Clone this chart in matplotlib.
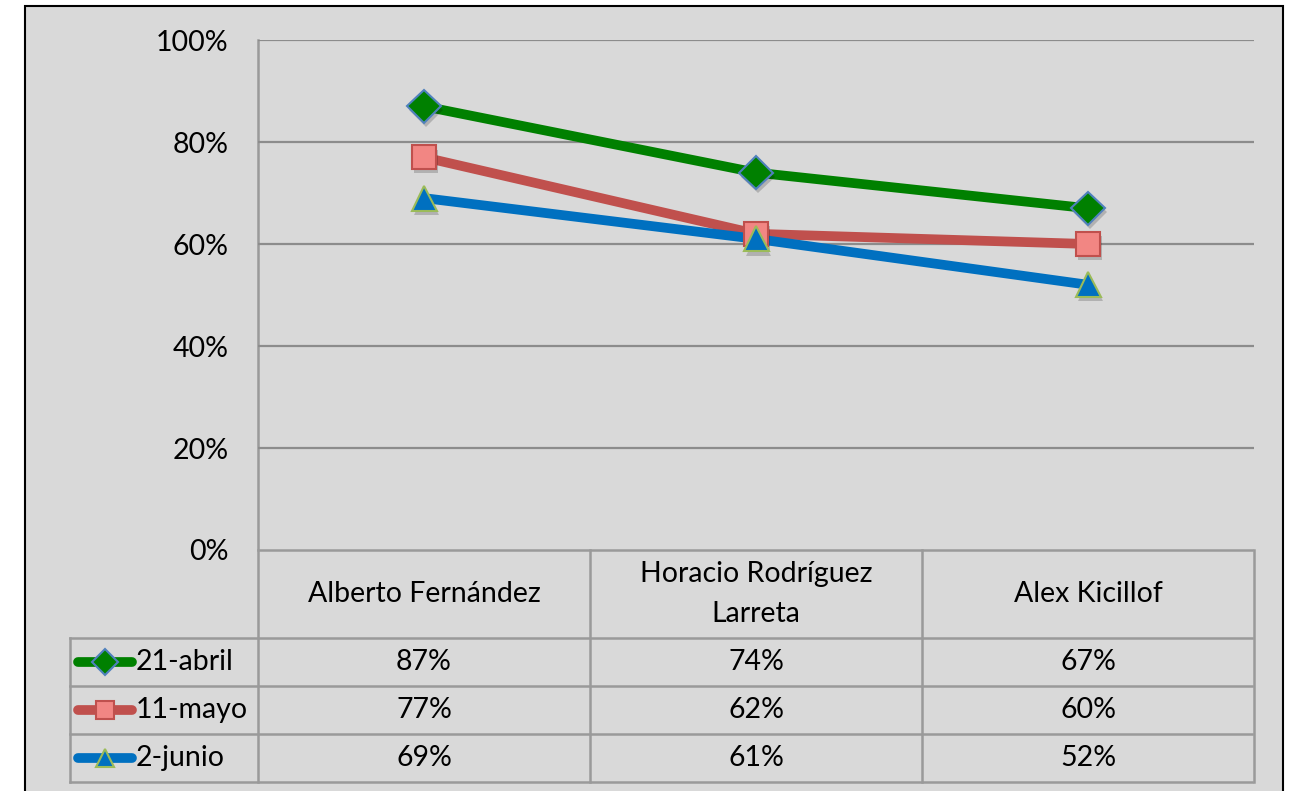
import matplotlib
matplotlib.use("Agg")
import matplotlib.pyplot as plt
import matplotlib.patheffects as pe
from matplotlib.transforms import blended_transform_factory

plt.rcParams['font.family'] = ['Lato', 'DejaVu Sans']

categories = ["Alberto Fernández", "Horacio Rodríguez\nLarreta", "Alex Kicillof"]
series_names = ["21-abril", "11-mayo", "2-junio"]
abril = [0.87, 0.74, 0.67]
mayo = [0.77, 0.62, 0.60]
junio = [0.69, 0.61, 0.52]
y_ticks = [0, 0.2, 0.4, 0.6, 0.8, 1.0]
y_tick_labels = ["0%", "20%", "40%", "60%", "80%", "100%"]

series = [abril, mayo, junio]
line_colors = ["#008000", "#c0504d", "#0070c0"]
markers = ["D", "s", "^"]
marker_faces = ["#008000", "#f28683", "#0070c0"]
marker_edges = ["#4f81bd", "#c0504d", "#9bbb59"]
marker_sizes = [17, 17, 18]
FS = 20.5

W, H = 1290, 791
fig = plt.figure(figsize=(W / 100, H / 100), dpi=100, facecolor="white")

# full-figure overlay in pixel coordinates for the frame and table
ov = fig.add_axes([0, 0, 1, 1], zorder=0)
ov.set_xlim(0, W)
ov.set_ylim(H, 0)
ov.axis("off")
ov.add_patch(plt.Rectangle((25, 6), 1258, 800, facecolor="#d9d9d9",
                           edgecolor="black", linewidth=1.5))

# plot area
left, right, top, bottom = 258, 1254, 40, 550
ax = fig.add_axes([left / W, 1 - bottom / H, (right - left) / W, (bottom - top) / H], zorder=2)
ax.patch.set_alpha(0)
ax.set_xlim(-0.5, len(categories) - 0.5)
ax.set_ylim(0, 1)
for s in ax.spines.values():
    s.set_visible(False)
ax.set_xticks([])
ax.set_yticks(y_ticks)
ax.set_yticklabels(y_tick_labels, fontsize=FS, color="black")
ax.tick_params(axis="y", length=0, pad=21)
for yv in y_ticks[1:]:
    ax.axhline(yv, color="#8c8c8c", linewidth=1.6, zorder=1)

xs = list(range(len(categories)))
shadow = [pe.SimplePatchShadow(offset=(1.5, -3), shadow_rgbFace="black", alpha=0.18), pe.Normal()]
for vals, lc, m, mf, me, ms in zip(series, line_colors, markers, marker_faces, marker_edges, marker_sizes):
    ax.plot(xs, vals, color=lc, linewidth=7, solid_capstyle="round", zorder=3)
    ax.plot(xs, vals, linestyle="none", marker=m, markersize=ms, markerfacecolor=mf,
            markeredgecolor=me, markeredgewidth=1.5, zorder=4, path_effects=shadow)

# data table below the plot
tx = blended_transform_factory(ax.transData, ov.transData)
grid_c = "#9a9a9a"
lw = 1.8
table_left = 70
header_bottom = 638
row_h = 48
n_rows = len(series)
table_bottom = header_bottom + row_h * n_rows

ov.plot([left, left], [top, table_bottom], color=grid_c, linewidth=lw)
ov.plot([left, right - 2], [bottom, bottom], color=grid_c, linewidth=lw)
for k in range(n_rows + 1):
    y = header_bottom + k * row_h
    ov.plot([table_left, right - 2], [y, y], color=grid_c, linewidth=lw)
ov.plot([table_left, table_left], [header_bottom, table_bottom], color=grid_c, linewidth=lw)
for i in range(len(categories)):
    ov.plot([i + 0.5, i + 0.5], [bottom, table_bottom], color=grid_c, linewidth=lw,
            transform=tx)

for i, cat in enumerate(categories):
    ov.text(i, (bottom + header_bottom) / 2, cat, transform=tx, ha="center", va="center",
            fontsize=FS, linespacing=1.7)

for r, (name, vals) in enumerate(zip(series_names, series)):
    yc = header_bottom + row_h * (r + 0.5)
    for i, v in enumerate(vals):
        ov.text(i, yc, f"{round(v * 100)}%", transform=tx, ha="center", va="center", fontsize=FS)
    ov.plot([78, 132], [yc, yc], color=line_colors[r], linewidth=7, solid_capstyle="round")
    ov.plot([105], [yc], linestyle="none", marker=markers[r], markersize=13,
            markerfacecolor=marker_faces[r], markeredgecolor=marker_edges[r], markeredgewidth=1.5)
    ov.text(136, yc, name, ha="left", va="center", fontsize=FS)

fig.savefig("out.png", dpi=100, facecolor="white")
